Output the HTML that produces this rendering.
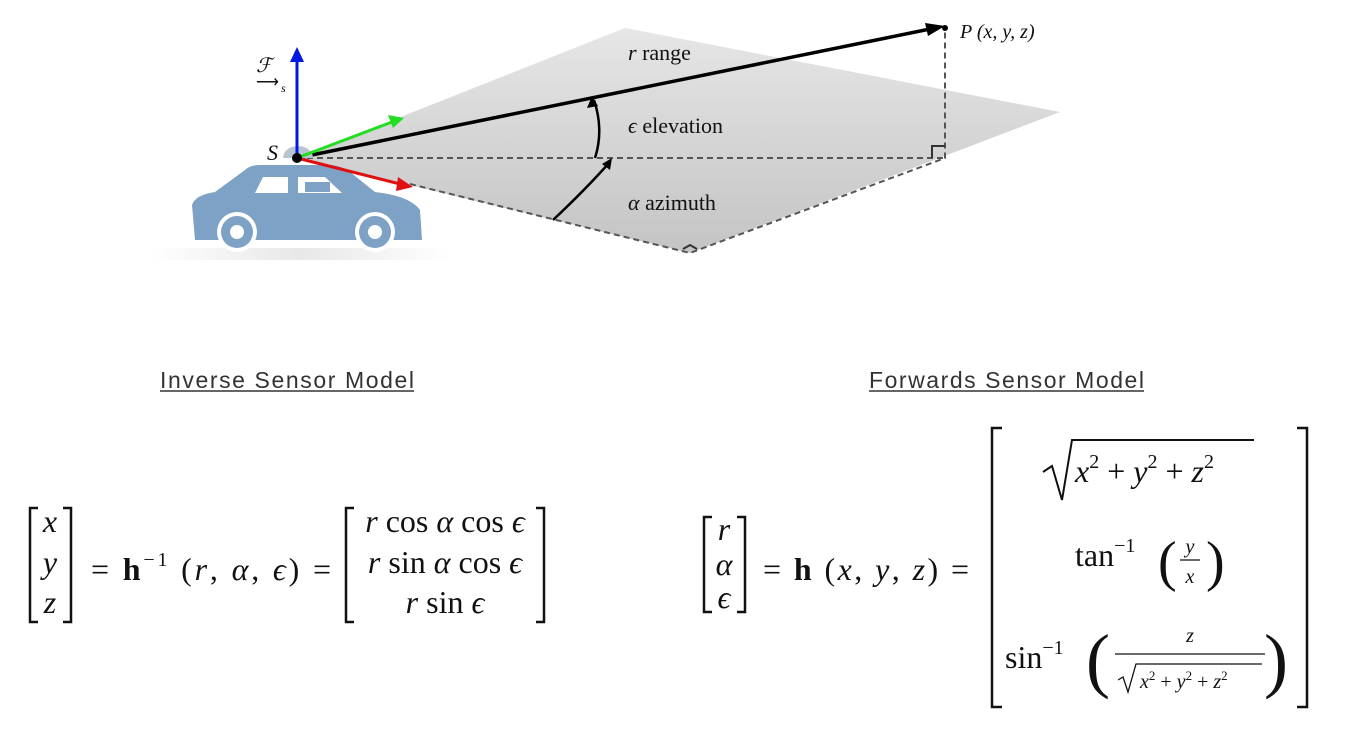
<!DOCTYPE html>
<html><head><meta charset="utf-8"><style>
html,body{margin:0;padding:0;background:#fff;}
svg{display:block}
.s{font-family:"Liberation Serif",serif;fill:#111}
.a{font-family:"Liberation Sans",sans-serif;fill:#333}
</style></head><body>
<svg width="1348" height="743" viewBox="0 0 1348 743" xmlns="http://www.w3.org/2000/svg">
<defs>
<linearGradient id="g" x1="0" y1="0" x2="0" y2="1">
<stop offset="0" stop-color="#e6e6e6"/><stop offset="1" stop-color="#c4c4c4"/></linearGradient>
<linearGradient id="sh" x1="0" y1="0" x2="1" y2="0">
<stop offset="0" stop-color="#fff"/><stop offset=".5" stop-color="#e8e8e8"/><stop offset="1" stop-color="#fff"/></linearGradient>
</defs>
<polygon points="297,158 625,28 1060,112 690,253 410,185" fill="url(#g)"/>
<path d="M297,158 L945,158 M410,184 L690,253 L945,158 L945,30" stroke="#555" stroke-width="2" stroke-dasharray="6,4" fill="none"/>
<path d="M932,158 V146 H945" stroke="#333" stroke-width="2" fill="none"/>
<path d="M683,249 L690,245 L697,249" stroke="#333" stroke-width="2" fill="none"/>
<line x1="297" y1="158" x2="930" y2="29" stroke="#000" stroke-width="3.5"/>
<polygon points="945,26 925,23 928,36" fill="#000"/>
<circle cx="945" cy="28" r="3" fill="#000"/>
<text class="s" x="960" y="38" font-size="20" font-style="italic" fill="#222">P (x, y, z)</text>
<path d="M595,158 Q604,130 594,100" stroke="#000" stroke-width="2.5" fill="none"/>
<polygon points="592,96 587,108 598,106" fill="#000"/>
<path d="M553,220 Q585,190 609,163" stroke="#000" stroke-width="2.5" fill="none"/>
<polygon points="612,158 602,164 610,170" fill="#000"/>
<text class="s" x="628" y="60" font-size="22"><tspan font-style="italic">r</tspan> range</text>
<text class="s" x="628" y="133" font-size="22"><tspan font-style="italic">ϵ</tspan> elevation</text>
<text class="s" x="628" y="210" font-size="22"><tspan font-style="italic">α</tspan> azimuth</text>
<!-- car -->
<rect x="150" y="248" width="300" height="12" fill="url(#sh)"/>
<path d="M283,158 a15,12 0 0 1 30,0 z" fill="#b8c4d0"/>
<path d="M195,240 L192,205 Q195,195 215,192 L245,170 Q250,165 260,165 L330,165 Q340,165 350,172 L375,192 Q410,196 420,210 L422,240 Z" fill="#7ea1c6"/>
<path d="M255,193 L263,177 L288,177 L288,193 Z M298,193 L298,177 L325,177 L342,193 Z" fill="#fff"/>
<rect x="305" y="182" width="25" height="10" fill="#7ea1c6"/>
<circle cx="237" cy="232" r="20" fill="#fff"/><circle cx="237" cy="232" r="16" fill="#7ea1c6"/><circle cx="237" cy="232" r="7" fill="#fff"/>
<circle cx="375" cy="232" r="20" fill="#fff"/><circle cx="375" cy="232" r="16" fill="#7ea1c6"/><circle cx="375" cy="232" r="7" fill="#fff"/>
<line x1="297" y1="158" x2="297" y2="60" stroke="#0018e0" stroke-width="3"/>
<polygon points="297,47 290,62 304,62" fill="#0018e0"/>
<line x1="297" y1="158" x2="392" y2="122" stroke="#22dd22" stroke-width="3"/>
<polygon points="404,118 388,115 393,128" fill="#22dd22"/>
<line x1="297" y1="158" x2="400" y2="184" stroke="#e01010" stroke-width="3"/>
<polygon points="413,187 398,177 396,191" fill="#e01010"/>
<circle cx="297" cy="158" r="5" fill="#000"/>
<text class="s" x="267" y="160" font-size="22" font-style="italic">S</text>
<text class="s" x="256" y="72" font-size="20" font-style="italic">ℱ</text>
<text class="s" x="256" y="87" font-size="16">⟶</text><text class="s" x="281" y="92" font-size="12" font-style="italic">s</text>
<!-- titles -->
<text class="a" x="160" y="388" font-size="23" textLength="254" lengthAdjust="spacing">Inverse Sensor Model</text>
<line x1="160" y1="391" x2="414" y2="391" stroke="#333" stroke-width="1.5"/>
<text class="a" x="869" y="388" font-size="23" textLength="275" lengthAdjust="spacing">Forwards Sensor Model</text>
<line x1="869" y1="391" x2="1144" y2="391" stroke="#333" stroke-width="1.5"/>
<g fill="none" stroke="#111" stroke-width="2.5">
<path d="M38,508 H30 V622 H38 M63,508 H71 V622 H63"/>
<path d="M354,508 H346 V622 H354 M536,508 H544 V622 H536"/>
<path d="M712,517 H704 V612 H712 M737,517 H745 V612 H737"/>
<path d="M1002,428 H992 V707 H1002 M1297,428 H1307 V707 H1297"/>
</g>
<g class="s" font-size="32">
<text x="50" y="532" text-anchor="middle" font-style="italic">x</text>
<text x="50" y="573" text-anchor="middle" font-style="italic">y</text>
<text x="50" y="613" text-anchor="middle" font-style="italic">z</text>
<text x="91" y="580" textLength="240" lengthAdjust="spacing">= <tspan font-weight="bold">h</tspan><tspan font-size="20" dy="-14">−1</tspan><tspan dy="14"> (<tspan font-style="italic">r</tspan>, <tspan font-style="italic">α</tspan>, <tspan font-style="italic">ϵ</tspan>) =</tspan></text>
<text x="445" y="532" text-anchor="middle"><tspan font-style="italic">r</tspan> cos <tspan font-style="italic">α</tspan> cos <tspan font-style="italic">ϵ</tspan></text>
<text x="445" y="573" text-anchor="middle"><tspan font-style="italic">r</tspan> sin <tspan font-style="italic">α</tspan> cos <tspan font-style="italic">ϵ</tspan></text>
<text x="445" y="613" text-anchor="middle"><tspan font-style="italic">r</tspan> sin <tspan font-style="italic">ϵ</tspan></text>
<text x="724" y="540" text-anchor="middle" font-style="italic">r</text>
<text x="724" y="575" text-anchor="middle" font-style="italic">α</text>
<text x="724" y="608" text-anchor="middle" font-style="italic">ϵ</text>
<text x="763" y="580" textLength="206" lengthAdjust="spacing">= <tspan font-weight="bold">h</tspan> (<tspan font-style="italic">x</tspan>, <tspan font-style="italic">y</tspan>, <tspan font-style="italic">z</tspan>) =</text>
<text x="1075" y="482"><tspan font-style="italic">x</tspan><tspan font-size="20" dy="-14">2</tspan><tspan dy="14"> + </tspan><tspan font-style="italic">y</tspan><tspan font-size="20" dy="-14">2</tspan><tspan dy="14"> + </tspan><tspan font-style="italic">z</tspan><tspan font-size="20" dy="-14">2</tspan></text>
<text x="1075" y="566">tan<tspan font-size="20" dy="-14">−1</tspan></text>
<text x="1005" y="668">sin<tspan font-size="20" dy="-14">−1</tspan></text>
</g>
<path d="M1043,472 L1052,466 L1062,500 L1072,440 H1254" stroke="#111" stroke-width="2" fill="none"/>
<g class="s">
<text x="1158" y="580" font-size="56">(</text>
<text x="1206" y="580" font-size="56">)</text>
<text x="1190" y="553" font-size="20" font-style="italic" text-anchor="middle">y</text>
<line x1="1180" y1="560" x2="1200" y2="560" stroke="#111" stroke-width="1.3"/>
<text x="1190" y="583" font-size="20" font-style="italic" text-anchor="middle">x</text>
<text x="1086" y="684" font-size="72">(</text>
<text x="1264" y="684" font-size="72">)</text>
<text x="1190" y="642" font-size="20" font-style="italic" text-anchor="middle">z</text>
<line x1="1115" y1="654" x2="1265" y2="654" stroke="#111" stroke-width="1.3"/>
<path d="M1118,680 L1123,677 L1128,692 L1136,664 H1262" stroke="#111" stroke-width="1.3" fill="none"/>
<text x="1140" y="688" font-size="20"><tspan font-style="italic">x</tspan><tspan font-size="13" dy="-8">2</tspan><tspan dy="8"> + </tspan><tspan font-style="italic">y</tspan><tspan font-size="13" dy="-8">2</tspan><tspan dy="8"> + </tspan><tspan font-style="italic">z</tspan><tspan font-size="13" dy="-8">2</tspan></text>
</g>
</svg>
</body></html>
